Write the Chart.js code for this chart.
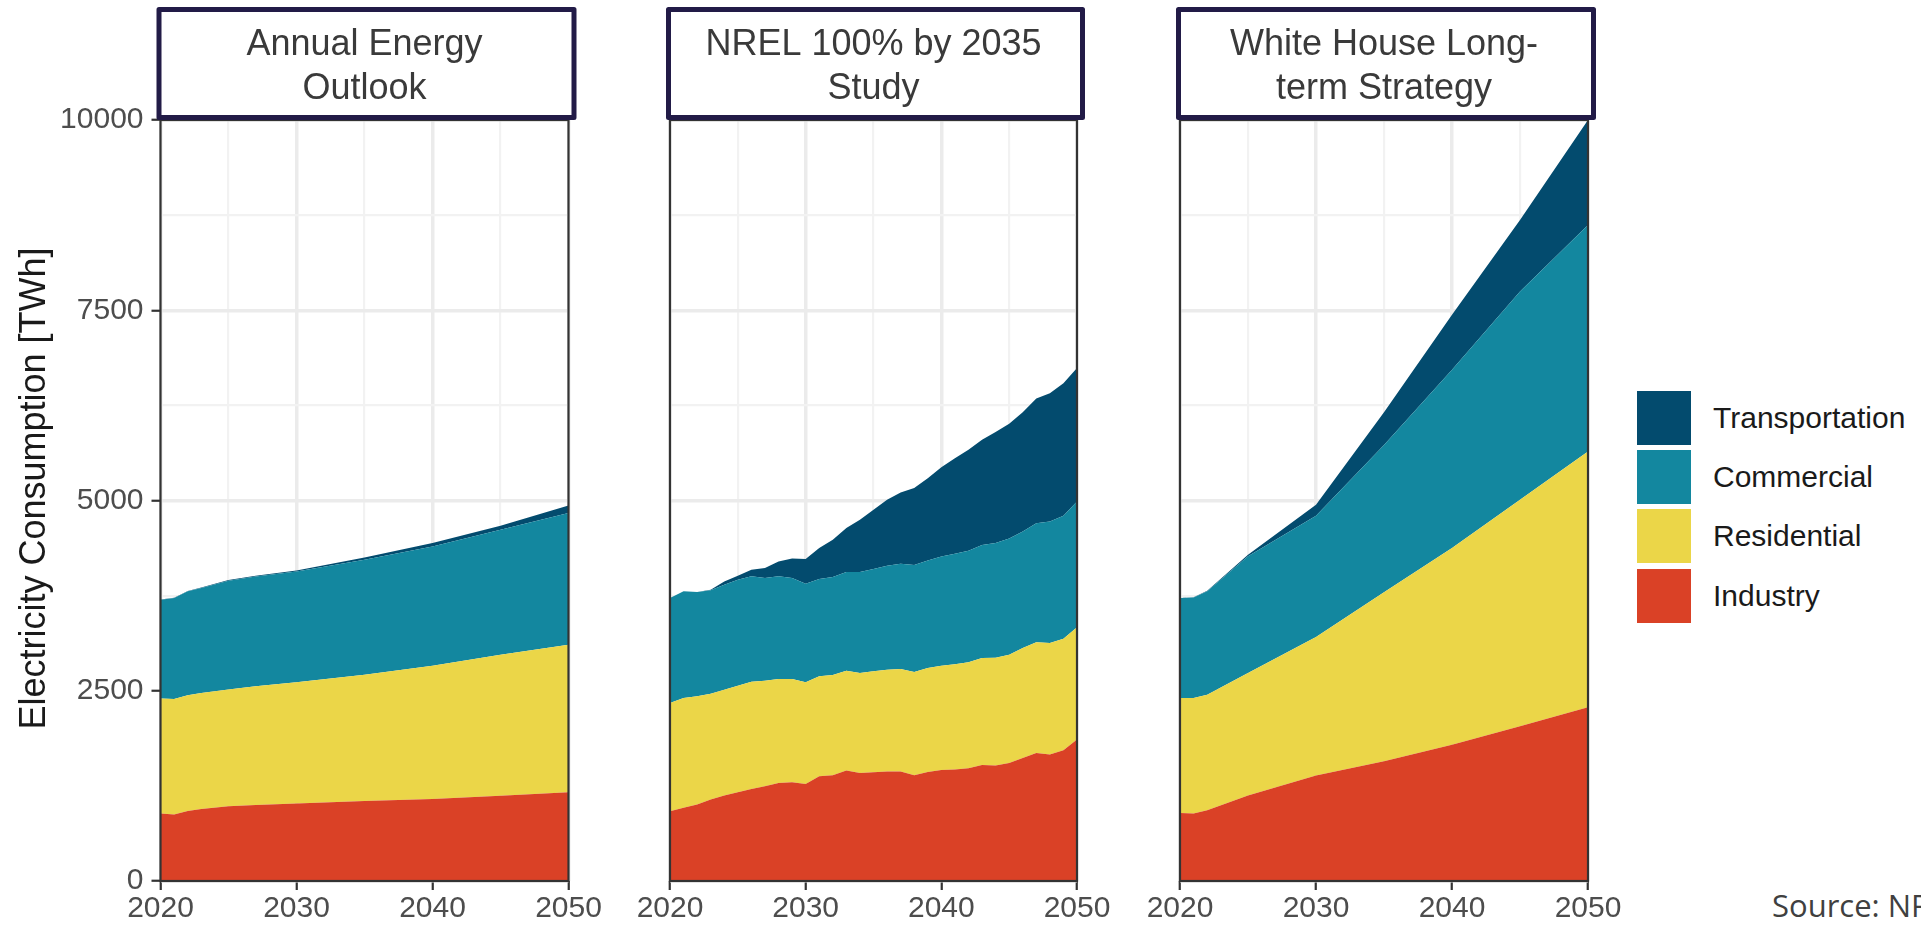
<!DOCTYPE html>
<html>
<head>
<meta charset="utf-8">
<script src="https://cdn.jsdelivr.net/npm/chart.js@4.4.1/dist/chart.umd.min.js"></script>
<style>
  body { margin: 0; background: #fff; overflow: hidden; }
  #wrap { position: relative; width: 1921px; height: 927px; overflow: hidden; font-family: 'Liberation Sans', Arial, sans-serif; }
  canvas { position: absolute; top: 0; }
  .key { position: absolute; left: 1637px; width: 54px; height: 54px; }
  .lab { position: absolute; left: 1713px; height: 54px; line-height: 54px; font-size: 30px; color: #1a1a1a; white-space: nowrap; }
  #source { position: absolute; left: 1772px; top: 889.5px; font: 31px 'Open Sans', sans-serif; line-height: 31px; color: #404040; white-space: nowrap; }
</style>
</head>
<body>
<div id="wrap">
  <canvas id="c1" width="620" height="927" style="left:0px"></canvas>
  <canvas id="c2" width="500" height="927" style="left:620px"></canvas>
  <canvas id="c3" width="500" height="927" style="left:1130px"></canvas>
  <div id="legend"></div>
  <div id="source">Source: NREL</div>
</div>
<script>
// sectors, bottom to top of the stack
const sectors = ['Industry', 'Residential', 'Commercial', 'Transportation'];
const sectorColors = ['#da4126', '#ebd648', '#13879f', '#034b6e'];

const yTitle = 'Electricity Consumption [TWh]';
const yTickLabels = [0, 2500, 5000, 7500, 10000];
const xTickLabels = [2020, 2030, 2040, 2050];

// Annual Energy Outlook
const aeoYears = [2020, 2021, 2022, 2023, 2025, 2027, 2030, 2035, 2040, 2045, 2050];
const aeoIndustry = [886, 873, 920, 945, 982, 1000, 1018, 1050, 1079, 1120, 1166];
const aeoResidential = [1511, 1520, 1520, 1525, 1533, 1560, 1593, 1660, 1751, 1854, 1940];
const aeoCommercial = [1300, 1326, 1366, 1380, 1431, 1440, 1457, 1512, 1567, 1642, 1729];
const aeoTransportation = [3, 3, 4, 6, 9, 12, 13, 28, 44, 52, 100];

// NREL 100% by 2035 Study
const nrelYears = [2020, 2021, 2022, 2023, 2024, 2025, 2026, 2027, 2028, 2029, 2030, 2031, 2032, 2033, 2034, 2035,
  2036, 2037, 2038, 2039, 2040, 2041, 2042, 2043, 2044, 2045, 2046, 2047, 2048, 2049, 2050];
const nrelIndustry = [917, 961, 1004, 1070, 1123, 1166, 1210, 1245, 1289, 1298, 1276, 1377, 1390, 1451, 1420, 1429,
  1438, 1438, 1390, 1433, 1460, 1464, 1482, 1525, 1517, 1552, 1617, 1683, 1661, 1718, 1858];
const nrelResidential = [1423, 1444, 1423, 1392, 1391, 1401, 1409, 1387, 1366, 1357, 1335, 1313, 1317, 1313, 1313, 1326,
  1339, 1348, 1356, 1366, 1370, 1383, 1392, 1405, 1418, 1422, 1445, 1453, 1466, 1466, 1475];
const nrelCommercial = [1378, 1401, 1370, 1357, 1379, 1392, 1384, 1349, 1348, 1326, 1295, 1278, 1287, 1296, 1327, 1344,
  1366, 1383, 1405, 1414, 1435, 1453, 1466, 1484, 1505, 1527, 1531, 1566, 1597, 1615, 1654];
const nrelTransportation = [0, 0, 0, 9, 44, 53, 87, 131, 196, 258, 324, 407, 490, 578, 687, 780,
  867, 937, 1012, 1081, 1173, 1256, 1326, 1383, 1460, 1509, 1567, 1638, 1686, 1741, 1753];

// White House Long-term Strategy
const whYears = [2020, 2021, 2022, 2025, 2030, 2035, 2040, 2045, 2050];
const whIndustry = [895, 886, 930, 1122, 1385, 1573, 1792, 2033, 2283];
const whResidential = [1510, 1519, 1519, 1611, 1821, 2222, 2583, 2977, 3362];
const whCommercial = [1313, 1322, 1357, 1533, 1593, 1935, 2342, 2735, 2976];
const whTransportation = [2, 3, 9, 22, 146, 431, 723, 942, 1379];

const fontFamily = "'Liberation Sans', Arial, sans-serif";
Chart.defaults.font.family = fontFamily;

// panel border, facet strip box and (first panel only) the y title
const panelFrame = {
  id: 'panelFrame',
  afterDraw(chart, args, opts) {
    const { ctx, chartArea: a } = chart;
    const t = chart.titleBlock;
    ctx.save();
    ctx.strokeStyle = '#333333';
    ctx.lineWidth = 2.2;
    ctx.strokeRect(a.left, a.top, a.right - a.left, a.bottom - a.top);
    ctx.strokeStyle = '#221b47';
    ctx.lineWidth = 5;
    ctx.lineJoin = 'round';
    ctx.strokeRect(a.left - 1.5, t.top + 2.5, a.right - a.left + 7, t.bottom - t.top - 5);
    if (opts.yTitle) {
      ctx.translate(35.4, 488.5);
      ctx.rotate(-Math.PI / 2);
      ctx.font = '36px ' + fontFamily;
      ctx.fillStyle = '#1a1a1a';
      ctx.textAlign = 'center';
      ctx.textBaseline = 'middle';
      ctx.fillText(opts.yTitle, 0, 0);
    }
    ctx.restore();
  }
};

function makePanel(id, title, years, series, firstPanel, padLeft, padRight) {
  const datasets = series.map((vals, i) => ({
    label: sectors[i],
    data: years.map((yr, k) => ({ x: yr, y: vals[k] })),
    backgroundColor: sectorColors[i],
    borderColor: sectorColors[i],
    borderWidth: 0,
    pointRadius: 0,
    tension: 0,
    fill: i === 0 ? 'origin' : '-1'
  }));

  new Chart(document.getElementById(id), {
    type: 'line',
    data: { datasets: datasets },
    plugins: [panelFrame],
    options: {
      responsive: false,
      animation: false,
      devicePixelRatio: 1,
      layout: { padding: { top: 7, left: padLeft, right: padRight, bottom: 0 } },
      plugins: {
        legend: { display: false },
        tooltip: { enabled: false },
        panelFrame: { yTitle: firstPanel ? yTitle : null },
        title: {
          display: true,
          text: title,
          fullSize: false,
          color: '#3a3a3a',
          font: { size: 36, weight: 'normal', lineHeight: 1.2 },
          padding: { top: 16.8, bottom: 9.8 }
        }
      },
      scales: {
        x: {
          type: 'linear',
          min: 2020,
          max: 2050,
          border: { display: false },
          ticks: {
            stepSize: 5,
            autoSkip: false,
            maxRotation: 0,
            padding: 1,
            color: '#4d4d4d',
            font: { size: 30 },
            callback: (v) => xTickLabels.includes(v) ? String(v) : ''
          },
          grid: {
            color: (c) => c.tick && c.tick.value % 10 === 0 ? '#ebebeb' : '#f2f2f2',
            lineWidth: (c) => c.tick && c.tick.value % 10 === 0 ? 3.5 : 2.2,
            tickLength: 9,
            tickWidth: 2.2,
            tickColor: (c) => c.tick && c.tick.value % 10 === 0 ? '#333333' : 'rgba(0,0,0,0)'
          },
          afterFit: (s) => { s.height = 46; }
        },
        y: {
          stacked: true,
          min: 0,
          max: 10000,
          border: { display: false },
          ticks: {
            display: firstPanel,
            stepSize: 1250,
            padding: 8,
            color: '#4d4d4d',
            font: { size: 30 },
            callback: (v) => yTickLabels.includes(v) ? String(v) : ''
          },
          grid: {
            color: (c) => c.tick && c.tick.value % 2500 === 0 ? '#ebebeb' : '#f2f2f2',
            lineWidth: (c) => c.tick && c.tick.value % 2500 === 0 ? 3.5 : 2.2,
            drawTicks: firstPanel,
            tickLength: 9,
            tickWidth: 2.2,
            tickColor: (c) => c.tick && c.tick.value % 2500 === 0 ? '#333333' : 'rgba(0,0,0,0)'
          },
          afterFit: (s) => { s.width = firstPanel ? 160.5 : 0; }
        }
      }
    }
  });
}

makePanel('c1', ['Annual Energy', 'Outlook'], aeoYears,
  [aeoIndustry, aeoResidential, aeoCommercial, aeoTransportation], true, 0, 51.5);
makePanel('c2', ['NREL 100% by 2035', 'Study'], nrelYears,
  [nrelIndustry, nrelResidential, nrelCommercial, nrelTransportation], false, 50, 43);
makePanel('c3', ['White House Long-', 'term Strategy'], whYears,
  [whIndustry, whResidential, whCommercial, whTransportation], false, 50, 42);

// legend, top item is the top of the stack
const legend = document.getElementById('legend');
const order = [3, 2, 1, 0];
order.forEach((s, row) => {
  const top = 390.7 + row * 59.3;
  const key = document.createElement('div');
  key.className = 'key';
  key.style.top = top + 'px';
  key.style.background = sectorColors[s];
  legend.appendChild(key);
  const lab = document.createElement('div');
  lab.className = 'lab';
  lab.style.top = top + 'px';
  lab.textContent = sectors[s];
  legend.appendChild(lab);
});
</script>
</body>
</html>
